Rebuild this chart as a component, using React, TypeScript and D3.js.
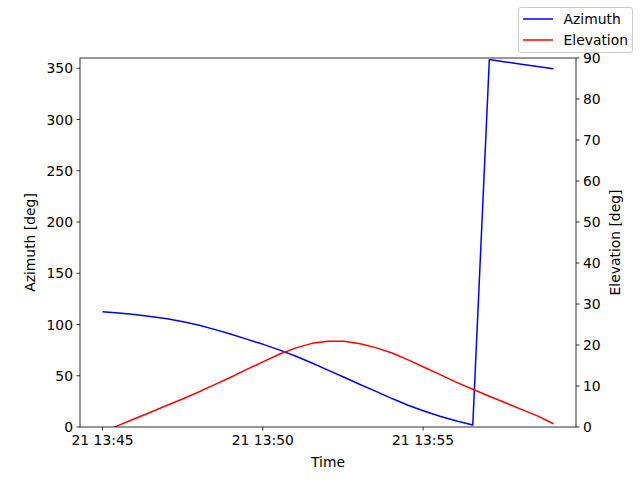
import React from 'react'
import * as d3 from 'd3'

// sample times (day 21), roughly every 30 s
const times = [
  '13:45:00', '13:45:30', '13:46:00', '13:46:30', '13:47:01', '13:47:31', '13:48:01',
  '13:48:31', '13:49:01', '13:49:31', '13:50:02', '13:50:32', '13:51:02', '13:51:32',
  '13:52:02', '13:52:32', '13:53:02', '13:53:33', '13:54:03', '13:54:33', '13:55:03',
  '13:55:33', '13:56:03', '13:56:33', '13:57:04', '13:57:34', '13:58:04', '13:58:34',
  '13:59:04',
]

const azimuth = [
  112.5, 111.2, 109.7, 107.8, 105.5, 102.6, 99.2, 95.0, 90.4, 85.5,
  80.4, 75.0, 69.0, 62.4, 55.5, 48.5, 41.5, 34.5, 27.5, 21.0,
  15.3, 10.2, 5.8, 2.0, 358.5, 356.2, 353.9, 351.7, 349.5,
]

const elevation = [
  -1.3, 0.4, 2.0, 3.6, 5.3, 6.9, 8.6, 10.4, 12.2, 14.1,
  16.0, 17.8, 19.3, 20.4, 20.9, 20.9, 20.3, 19.3, 18.0, 16.3,
  14.5, 12.7, 10.9, 9.2, 7.5, 5.9, 4.3, 2.7, 0.8,
]

const azTicks = [0, 50, 100, 150, 200, 250, 300, 350]
const elTicks = [0, 10, 20, 30, 40, 50, 60, 70, 80, 90]

const series = [
  { name: 'Azimuth', color: '#0000ff' },
  { name: 'Elevation', color: '#ff0000' },
]

const W = 640
const H = 480
const margin = { top: 58, right: 64, bottom: 53, left: 80 }
const FONT = '"DejaVu Sans", sans-serif'
const FS = 13.9

const parseTime = d3.timeParse('%Y-%m-%d %H:%M:%S')

export default function App() {
  const innerW = W - margin.left - margin.right
  const innerH = H - margin.top - margin.bottom

  const dates = times.map(t => parseTime('2024-01-21 ' + t) as Date)
  const [t0, t1] = d3.extent(dates) as [Date, Date]
  const pad = (+t1 - +t0) * 0.05

  const x = d3.scaleTime()
    .domain([new Date(+t0 - pad), new Date(+t1 + pad)])
    .range([0, innerW])
  const yAz = d3.scaleLinear().domain([0, 360]).range([innerH, 0])
  const yEl = d3.scaleLinear().domain([0, 90]).range([innerH, 0])

  const xTicks = x.ticks(d3.timeMinute.every(5))
  const fmt = d3.timeFormat('%d %H:%M')

  const azLine = d3.line<number>()
    .x((_, i) => x(dates[i]))
    .y(d => yAz(d))
  const elLine = d3.line<number>()
    .x((_, i) => x(dates[i]))
    .y(d => yEl(d))

  return (
    <svg width={W} height={H} style={{ position: 'absolute', left: 0, top: 0, background: 'white' }}
      fontFamily={FONT} fontSize={FS}>
      <defs>
        <clipPath id="plot-clip">
          <rect x={0} y={0} width={innerW} height={innerH} />
        </clipPath>
      </defs>
      <g transform={`translate(${margin.left},${margin.top})`}>
        <g clipPath="url(#plot-clip)">
          <path d={azLine(azimuth) || ''} fill="none" stroke={series[0].color} strokeWidth={1.5} strokeLinejoin="round" />
          <path d={elLine(elevation) || ''} fill="none" stroke={series[1].color} strokeWidth={1.5} strokeLinejoin="round" />
        </g>

        {/* frame */}
        <rect x={0} y={0} width={innerW} height={innerH} fill="none" stroke="black" strokeWidth={0.8} />

        {/* x axis */}
        {xTicks.map((t, i) => (
          <g key={i} transform={`translate(${x(t)},${innerH})`}>
            <line y2={3.5} stroke="black" strokeWidth={0.8} />
            <text y={7} dy="0.76em" textAnchor="middle">{fmt(t)}</text>
          </g>
        ))}
        <text x={innerW / 2} y={innerH + 29} dy="0.76em" textAnchor="middle">Time</text>

        {/* left axis */}
        {azTicks.map((v, i) => (
          <g key={i} transform={`translate(0,${yAz(v)})`}>
            <line x2={-3.5} stroke="black" strokeWidth={0.8} />
            <text x={-7} dy="0.36em" textAnchor="end">{v}</text>
          </g>
        ))}
        <text transform={`translate(${-45},${innerH / 2}) rotate(-90)`} textAnchor="middle">Azimuth [deg]</text>

        {/* right axis */}
        {elTicks.map((v, i) => (
          <g key={i} transform={`translate(${innerW},${yEl(v)})`}>
            <line x2={3.5} stroke="black" strokeWidth={0.8} />
            <text x={7} dy="0.36em" textAnchor="start">{v}</text>
          </g>
        ))}
        <text transform={`translate(${innerW + 44},${innerH / 2}) rotate(-90)`} textAnchor="middle">Elevation [deg]</text>
      </g>

      {/* figure legend */}
      <g transform="translate(518.5,7.5)">
        <rect width={114} height={45} rx={2.5} fill="white" fillOpacity={0.8} stroke="#cccccc" strokeWidth={1} />
        {series.map((s, i) => (
          <g key={s.name} transform={`translate(0,${11.5 + i * 21})`}>
            <line x1={4.5} x2={34.5} stroke={s.color} strokeWidth={1.5} />
            <text x={45} dy="0.36em">{s.name}</text>
          </g>
        ))}
      </g>
    </svg>
  )
}
